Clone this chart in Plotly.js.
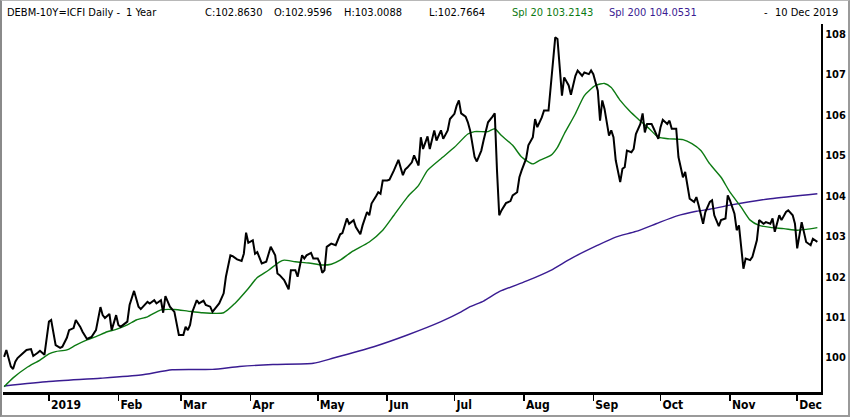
<!DOCTYPE html>
<html>
<head>
<meta charset="utf-8">
<script src="https://cdn.plot.ly/plotly-3.0.1.min.js"></script>
<style>
  html,body{margin:0;padding:0;background:#fff;}
  #wrap{position:relative;width:850px;height:417px;overflow:hidden;}
  #chart{width:850px;height:417px;}
  #frame{position:absolute;left:0;top:0;width:850px;height:417px;box-sizing:border-box;
    border-top:1px solid #b8b8b8;border-right:2px solid #9a9a9a;border-bottom:2px solid #9a9a9a;border-left:2px solid #8a8a8a;pointer-events:none;}
</style>
</head>
<body>
<div id="wrap"><div id="chart"></div><div id="frame"></div></div>
<script>
// ---- data ----
const closeDates = [
'2018-12-12','2018-12-13','2018-12-15','2018-12-16','2018-12-17','2018-12-18','2018-12-20','2018-12-22','2018-12-24','2018-12-25',
'2018-12-27','2018-12-28','2018-12-30','2019-01-01','2019-01-02','2019-01-04','2019-01-06','2019-01-07','2019-01-09','2019-01-10',
'2019-01-12','2019-01-13','2019-01-15','2019-01-16','2019-01-18','2019-01-20','2019-01-22','2019-01-24','2019-01-25','2019-01-26',
'2019-01-28','2019-01-29','2019-01-31','2019-02-01','2019-02-02','2019-02-05','2019-02-06','2019-02-08','2019-02-10','2019-02-11',
'2019-02-14','2019-02-15','2019-02-17','2019-02-18','2019-02-20','2019-02-21','2019-02-22','2019-02-24','2019-02-26','2019-02-27',
'2019-02-28','2019-03-02','2019-03-03','2019-03-04','2019-03-05','2019-03-06','2019-03-08','2019-03-09','2019-03-11','2019-03-12',
'2019-03-14','2019-03-15','2019-03-17','2019-03-18','2019-03-20','2019-03-21','2019-03-23','2019-03-24','2019-03-26','2019-03-28',
'2019-03-29','2019-03-30','2019-03-31','2019-04-02','2019-04-03','2019-04-04','2019-04-06','2019-04-08','2019-04-10','2019-04-12',
'2019-04-13','2019-04-14','2019-04-16','2019-04-18','2019-04-19','2019-04-21','2019-04-22','2019-04-24','2019-04-25','2019-04-26',
'2019-04-28','2019-04-29','2019-05-01','2019-05-02','2019-05-03','2019-05-04','2019-05-05','2019-05-07','2019-05-09','2019-05-11',
'2019-05-12','2019-05-14','2019-05-15','2019-05-17','2019-05-18','2019-05-20','2019-05-21','2019-05-23','2019-05-24','2019-05-25',
'2019-05-27','2019-05-28','2019-05-29','2019-05-30','2019-06-01','2019-06-02','2019-06-04','2019-06-05','2019-06-06','2019-06-08',
'2019-06-09','2019-06-10','2019-06-12','2019-06-13','2019-06-15','2019-06-16','2019-06-17','2019-06-19','2019-06-20','2019-06-22',
'2019-06-23','2019-06-25','2019-06-26','2019-06-28','2019-06-29','2019-07-01','2019-07-02','2019-07-03','2019-07-04','2019-07-06',
'2019-07-07','2019-07-08','2019-07-10','2019-07-11','2019-07-13','2019-07-14','2019-07-16','2019-07-18','2019-07-19','2019-07-20',
'2019-07-21','2019-07-22','2019-07-24','2019-07-26','2019-07-27','2019-07-29','2019-07-30','2019-07-31','2019-08-02','2019-08-03',
'2019-08-05','2019-08-06','2019-08-07','2019-08-09','2019-08-10','2019-08-12','2019-08-13','2019-08-14','2019-08-15','2019-08-16',
'2019-08-17','2019-08-18','2019-08-19','2019-08-21','2019-08-22','2019-08-24','2019-08-25','2019-08-27','2019-08-28','2019-08-30',
'2019-08-31','2019-09-01','2019-09-03','2019-09-04','2019-09-05','2019-09-06','2019-09-08','2019-09-09','2019-09-10','2019-09-11',
'2019-09-13','2019-09-14','2019-09-15','2019-09-16','2019-09-18','2019-09-19','2019-09-20','2019-09-22','2019-09-23','2019-09-24',
'2019-09-25','2019-09-27','2019-09-28','2019-09-30','2019-10-01','2019-10-02','2019-10-04','2019-10-05','2019-10-06','2019-10-08',
'2019-10-09','2019-10-11','2019-10-12','2019-10-13','2019-10-14','2019-10-16','2019-10-17','2019-10-18','2019-10-20','2019-10-21',
'2019-10-23','2019-10-24','2019-10-25','2019-10-27','2019-10-28','2019-10-30','2019-10-31','2019-11-01','2019-11-03','2019-11-04',
'2019-11-05','2019-11-07','2019-11-08','2019-11-10','2019-11-11','2019-11-13','2019-11-14','2019-11-16','2019-11-17','2019-11-19',
'2019-11-20','2019-11-21','2019-11-23','2019-11-24','2019-11-26','2019-11-27','2019-11-29','2019-11-30','2019-12-01','2019-12-03',
'2019-12-04','2019-12-05','2019-12-07','2019-12-08','2019-12-10'
];
const closeValues = [
100.02,100.19,99.78,99.72,99.90,99.99,100.09,100.19,100.21,100.04,
100.12,100.17,100.07,100.89,100.93,100.31,100.24,100.27,100.49,100.68,
100.73,100.93,100.76,100.64,100.46,100.51,100.68,101.25,101.05,100.98,
101.08,100.68,101.05,100.81,100.76,100.89,101.30,101.65,101.26,101.20,
101.38,101.34,101.42,101.34,101.42,101.11,101.52,101.26,101.13,100.85,
100.56,100.56,100.76,100.68,100.81,101.13,101.42,101.34,101.41,101.30,
101.26,101.13,101.26,101.34,101.59,102.00,102.53,102.51,102.43,102.39,
102.57,103.09,102.84,102.90,102.57,102.61,102.33,102.37,102.74,102.53,
102.08,102.04,101.92,101.69,102.16,102.16,102.00,102.53,102.45,102.53,
102.59,102.45,102.45,102.33,102.10,102.16,102.74,102.82,102.78,103.05,
103.08,103.44,103.31,103.40,103.23,103.05,103.27,103.60,103.52,103.81,
103.99,104.09,104.05,104.38,104.38,104.40,104.63,104.75,104.89,104.51,
104.65,104.70,104.83,105.00,104.75,105.45,105.16,105.47,105.16,105.62,
105.37,105.62,105.41,105.62,105.90,106.03,106.23,106.36,106.04,105.96,
105.82,105.62,104.96,104.85,105.12,105.37,105.82,105.96,106.04,104.63,
103.52,103.64,103.82,103.87,104.01,104.09,104.46,104.63,104.92,105.25,
105.45,105.90,105.70,105.94,106.11,106.11,106.68,107.34,107.92,107.88,
107.26,106.48,106.93,106.73,106.50,106.97,107.10,106.97,107.05,107.01,
107.10,107.01,106.60,105.86,106.36,106.15,105.49,105.62,105.45,104.88,
104.34,104.67,104.71,105.12,105.08,105.16,105.53,105.78,106.04,105.57,
105.78,105.78,105.66,105.41,105.70,105.88,105.78,105.86,105.66,105.66,
104.96,104.46,104.59,104.26,103.93,103.85,103.97,103.77,103.31,103.60,
103.85,103.89,103.52,103.25,103.40,103.44,104.01,103.89,103.56,103.15,
103.27,102.20,102.45,102.41,102.49,102.90,103.40,103.31,103.35,103.31,
103.44,103.11,103.52,103.40,103.60,103.64,103.52,103.31,102.70,103.35,
103.11,102.86,102.78,102.94,102.863
];
const sma20Dates = [
'2018-12-12','2018-12-16','2018-12-22','2018-12-28','2019-01-01','2019-01-04','2019-01-09','2019-01-13','2019-01-18','2019-01-22',
'2019-01-27','2019-01-31','2019-02-05','2019-02-09','2019-02-14','2019-02-20','2019-02-26','2019-03-04','2019-03-10','2019-03-20',
'2019-03-25','2019-03-31','2019-04-04','2019-04-09','2019-04-14','2019-04-16','2019-04-21','2019-04-27','2019-05-03','2019-05-07',
'2019-05-11','2019-05-16','2019-05-24','2019-05-30','2019-06-04','2019-06-10','2019-06-15','2019-06-19','2019-06-25','2019-07-01',
'2019-07-07','2019-07-10','2019-07-16','2019-07-19','2019-07-22','2019-07-27','2019-07-31','2019-08-05','2019-08-08','2019-08-13',
'2019-08-16','2019-08-19','2019-08-24','2019-08-28','2019-09-02','2019-09-06','2019-09-09','2019-09-13','2019-09-17','2019-09-21',
'2019-09-26','2019-09-30','2019-10-05','2019-10-11','2019-10-15','2019-10-19','2019-10-23','2019-10-28','2019-11-01','2019-11-06',
'2019-11-10','2019-11-14','2019-11-19','2019-11-25','2019-12-01','2019-12-05','2019-12-10'
];
const sma20Values = [
99.28,99.50,99.75,99.94,100.09,100.15,100.19,100.31,100.44,100.52,
100.64,100.70,100.81,100.93,101.01,101.18,101.19,101.15,101.11,101.11,
101.34,101.71,101.98,102.16,102.37,102.41,102.37,102.34,102.29,102.31,
102.41,102.61,102.86,103.15,103.52,103.97,104.26,104.63,104.92,105.20,
105.53,105.59,105.59,105.66,105.49,105.25,104.96,104.79,104.88,105.00,
105.20,105.53,106.03,106.48,106.73,106.78,106.68,106.36,106.11,105.90,
105.66,105.45,105.41,105.39,105.29,105.12,104.79,104.46,104.09,103.72,
103.40,103.27,103.22,103.19,103.15,103.17,103.2143
];
const sma200Dates = [
'2018-12-12','2019-01-01','2019-01-24','2019-02-11','2019-02-25','2019-03-15','2019-03-27','2019-04-11','2019-04-29','2019-05-08',
'2019-05-26','2019-06-10','2019-06-25','2019-07-04','2019-07-08','2019-07-14','2019-07-21','2019-08-02','2019-08-13','2019-08-22',
'2019-09-03','2019-09-11','2019-09-20','2019-09-29','2019-10-08','2019-10-17','2019-10-23','2019-11-01','2019-11-19','2019-12-10'
];
const sma200Values = [
99.30,99.41,99.49,99.57,99.70,99.71,99.78,99.83,99.86,99.99,
100.27,100.56,100.89,101.13,101.26,101.40,101.63,101.89,102.16,102.45,
102.78,102.98,103.12,103.31,103.50,103.62,103.67,103.77,103.93,104.0531
];
const monthTicks = ['2019-01-01','2019-02-01','2019-03-01','2019-04-01','2019-05-01','2019-06-01',
                    '2019-07-01','2019-08-01','2019-09-01','2019-10-01','2019-11-01','2019-12-01'];
const monthLabels = ['2019','Feb','Mar','Apr','May','Jun','Jul','Aug','Sep','Oct','Nov','Dec'];
const headerParts = ['DEBM-10Y=ICFI Daily -','1 Year','C:102.8630','O:102.9596','H:103.0088','L:102.7664',
                     'Spl 20 103.2143','Spl 200 104.0531','-','10 Dec 2019'];

// ---- layout helpers ----
const GREEN = '#0c7a12', PURPLE = '#3a1c92';
const PL = 3, PR = 821, PT = 24, PB = 392;
const pxX = x => (x - PL) / (PR - PL);
const pxY = y => (PB - y) / (PB - PT);
const FONT = '"DejaVu Sans Condensed", "DejaVu Sans", "Liberation Sans", sans-serif';

const headerX = [5,124,203,272,342,427,510,607,766,840];
const headerAnchor = ['left','left','left','left','left','left','left','left','center','right'];
const headerColor = ['#000','#000','#000','#000','#000','#000',GREEN,PURPLE,'#000','#000'];

const annotations = headerParts.map((t, i) => ({
  text: t, xref: 'paper', yref: 'paper', x: pxX(headerX[i]), y: pxY(12),
  xanchor: headerAnchor[i], yanchor: 'middle', showarrow: false,
  font: {family: FONT, size: 11, color: headerColor[i]}
}));

const traces = [
  {x: sma200Dates, y: sma200Values, type: 'scatter', mode: 'lines',
   line: {color: PURPLE, width: 1.4, shape: 'spline', smoothing: 0.6}, hoverinfo: 'skip'},
  {x: sma20Dates, y: sma20Values, type: 'scatter', mode: 'lines',
   line: {color: GREEN, width: 1.4, shape: 'spline', smoothing: 0.6}, hoverinfo: 'skip'},
  {x: closeDates, y: closeValues, type: 'scatter', mode: 'lines',
   line: {color: '#000', width: 2}, hoverinfo: 'skip'}
];

const layout = {
  width: 850, height: 417,
  margin: {l: PL, r: 850 - PR, t: PT, b: 417 - PB, pad: 0},
  paper_bgcolor: '#fff', plot_bgcolor: '#fff',
  showlegend: false,
  xaxis: {
    type: 'date', range: ['2018-12-11 12:00', '2019-12-11 15:00'],
    tickmode: 'array', tickvals: monthTicks, ticktext: monthLabels,
    ticks: 'outside', ticklen: 6, tickwidth: 1.5, tickcolor: '#000',
    ticklabelposition: 'outside right',
    showline: true, linecolor: '#000', linewidth: 2.5,
    showgrid: false, zeroline: false,
    tickfont: {family: FONT, size: 12, color: '#000', weight: 'bold'}
  },
  yaxis: {
    side: 'right', range: [99.15, 108.25], dtick: 1, tick0: 100,
    ticks: '', showline: true, linecolor: '#000', linewidth: 2,
    showgrid: false, zeroline: false,
    tickfont: {family: FONT, size: 11, color: '#000', weight: 'bold'}
  },
  annotations: annotations
};

Plotly.newPlot('chart', traces, layout, {displayModeBar: false, staticPlot: true});
</script>
</body>
</html>
